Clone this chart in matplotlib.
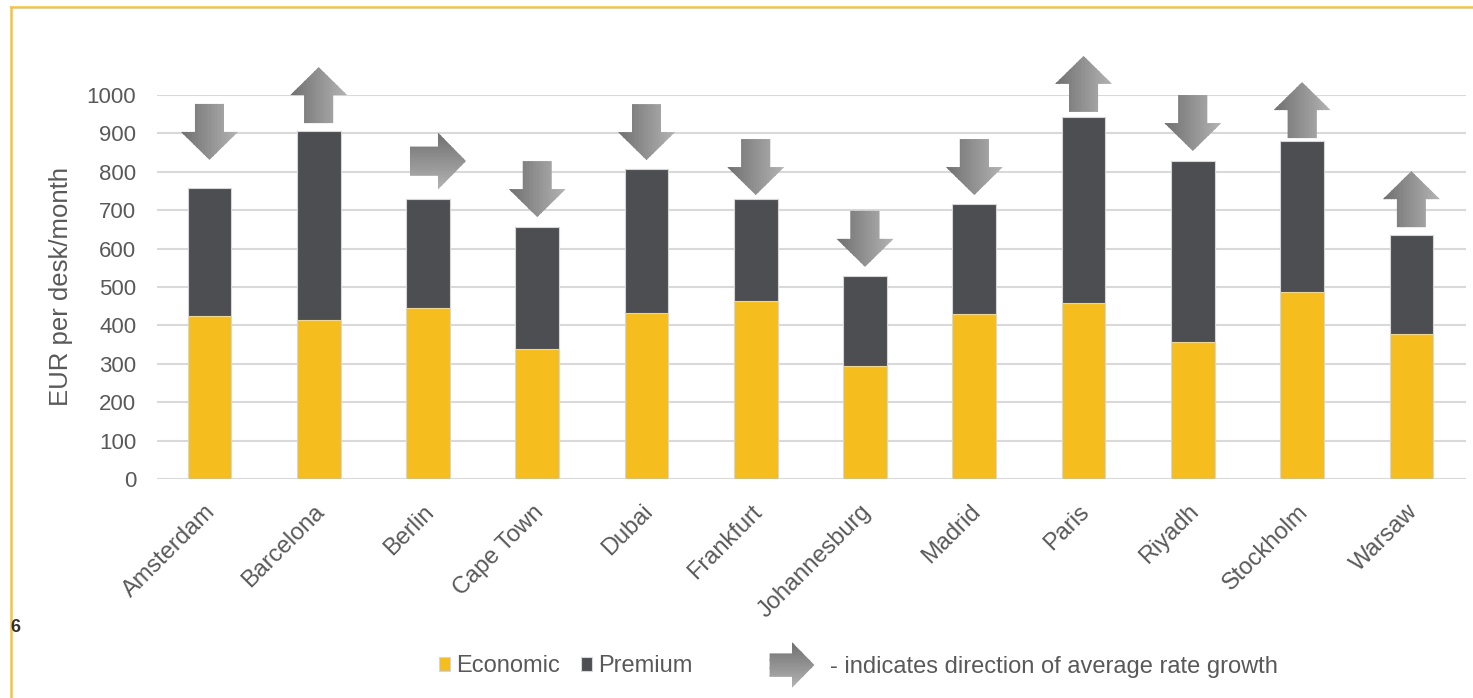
import matplotlib
matplotlib.use("Agg")
import matplotlib.pyplot as plt
import matplotlib.transforms as mtransforms
from matplotlib.patches import Polygon, Rectangle
from matplotlib.lines import Line2D
import numpy as np

plt.rcParams['font.family'] = ['Liberation Sans', 'DejaVu Sans']

# data
cities = ['Amsterdam', 'Barcelona', 'Berlin', 'Cape Town', 'Dubai', 'Frankfurt',
          'Johannesburg', 'Madrid', 'Paris', 'Riyadh', 'Stockholm', 'Warsaw']
economic = [424, 414, 445, 339, 432, 464, 294, 430, 458, 357, 487, 378]
total = [758, 906, 729, 656, 807, 729, 529, 716, 943, 828, 880, 635]
premium = [t - e for t, e in zip(total, economic)]
trend = ['down', 'up', 'right', 'down', 'down', 'down',
         'down', 'down', 'up', 'down', 'up', 'up']

# layout of the arrows (pixels between bar top and arrow)
arrow_gap = [28, 8, 10, 10, 9, 4, 9, 9, 5, 10, 3, 8]

YELLOW = '#f5be1e'
DARK = '#4d4e52'
TEXT = '#595959'

W, H = 1473, 698
fig = plt.figure(figsize=(W / 100, H / 100), dpi=100)
ax = fig.add_axes([157 / W, 1 - 479 / H, (1466 - 157) / W, (479 - 95) / H])

x = np.arange(len(cities))
b1 = ax.bar(x, economic, width=0.4, color=YELLOW, edgecolor='#d6d6d6', linewidth=0.8, zorder=2)
b2 = ax.bar(x, premium, width=0.4, bottom=economic, color=DARK, edgecolor='#d6d6d6',
            linewidth=0.8, zorder=2)

ax.set_xlim(-0.48, 11.5)
ax.set_ylim(0, 1000)
ax.set_yticks(range(0, 1001, 100))
ax.yaxis.grid(True, color='#d9d9d9', linewidth=1.5)
ax.set_axisbelow(True)
for s in ax.spines.values():
    s.set_visible(False)
ax.tick_params(axis='y', length=0, pad=15, labelsize=16, labelcolor=TEXT)
ax.tick_params(axis='x', length=0, pad=2, labelsize=17, labelcolor=TEXT)
ax.set_xticks(x)
ax.set_xticklabels(cities, rotation=45, ha='right', rotation_mode='anchor')
shift = mtransforms.ScaledTranslation(-0.05, -0.19, fig.dpi_scale_trans)
for lab in ax.get_xticklabels():
    lab.set_transform(lab.get_transform() + shift)

fig.text(61 / W, 1 - 286 / H, 'EUR per desk/month', rotation=90, ha='center', va='center',
         fontsize=18.5, color=TEXT)

# block arrow, pointing up, centred on origin, in pixels
ARROW = np.array([(-14.5, -28), (14.5, -28), (14.5, 0), (28.5, 0), (0, 28),
                  (-28.5, 0), (-14.5, 0)])
ANGLE = {'up': 0, 'down': 180, 'right': -90}


def draw_arrow(xv, yv, direction, base, dx=0, dy=0, scale=1.0):
    trans = (mtransforms.Affine2D().scale(scale).rotate_deg(ANGLE[direction])
             .translate(dx, dy).scale(0.01)
             + fig.dpi_scale_trans
             + mtransforms.ScaledTranslation(xv, yv, base))
    poly = Polygon(ARROW, closed=True, facecolor='none', edgecolor='none', transform=trans)
    fig.add_artist(poly)
    n = 40
    edges = np.linspace(-28.5, 28.5, n + 1)
    c0, c1 = np.array([0.44, 0.44, 0.44]), np.array([0.70, 0.70, 0.70])
    for i in range(n):
        t = i / (n - 1)
        if direction == 'down':
            t = 1 - t
        col = c0 + (c1 - c0) * t
        r = Rectangle((edges[i], -30), edges[i + 1] - edges[i] + 0.3, 60,
                      facecolor=col, edgecolor='none', transform=trans)
        fig.add_artist(r)
        r.set_clip_path(poly)


for i, d in enumerate(trend):
    if d == 'right':
        draw_arrow(x[i], total[i], d, ax.transData, dx=10, dy=arrow_gap[i] + 28)
    else:
        draw_arrow(x[i], total[i], d, ax.transData, dy=arrow_gap[i] + 28)

# legend
fig.legend([b1, b2], ['Economic', 'Premium'], loc='center', bbox_to_anchor=(566 / W, 1 - 666 / H),
           ncol=2, frameon=False, fontsize=17, labelcolor=TEXT, handlelength=0.47,
           handleheight=0.55, handletextpad=0.25, columnspacing=0.9)
draw_arrow(792 / W, 1 - 665 / H, 'right', fig.transFigure, scale=0.8)
fig.text(830 / W, 1 - 667 / H, '- indicates direction of average rate growth', fontsize=17,
         color=TEXT, va='center', ha='left')

fig.text(10 / W, 1 - 628 / H, '6', fontsize=13, fontweight='bold', color='#333333', va='center')

# yellow frame
fig.add_artist(Line2D([11 / W, 11 / W], [0, 1 - 7 / H], color='#f5c342', linewidth=1.8,
                      transform=fig.transFigure))
fig.add_artist(Line2D([11 / W, 1], [1 - 7 / H, 1 - 7 / H], color='#f5c342', linewidth=1.8,
                      transform=fig.transFigure))

fig.savefig('out.png', dpi=100)
